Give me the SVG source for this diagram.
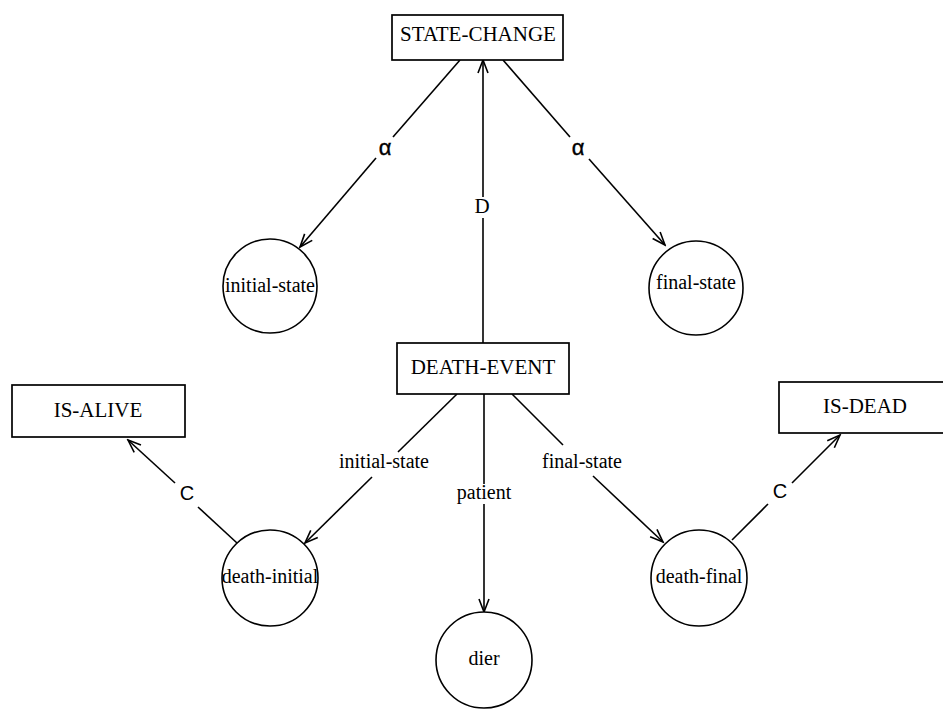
<svg xmlns="http://www.w3.org/2000/svg" width="943" height="709" viewBox="0 0 943 709">
  <style>
    .box { fill: #fff; stroke: #000; stroke-width: 1.7; }
    .node { fill: #fff; stroke: #000; stroke-width: 1.6; }
    .edge { fill: none; stroke: #000; stroke-width: 1.6; }
    .txt { font-family: "Liberation Serif", "Times New Roman", serif; font-size: 21px; fill: #000; text-anchor: middle; }
    .small { font-size: 20px; }
    .sym { font-family: "Liberation Sans", Arial, sans-serif; font-size: 20px; fill: #000; text-anchor: middle; }
    .alpha { font-size: 22px; stroke: #000; stroke-width: 0.4; }
  </style>
  <defs>
    <marker id="arrow" markerUnits="userSpaceOnUse" markerWidth="16" markerHeight="14" viewBox="-14 -7 16 14" refX="0" refY="0" orient="auto">
      <path d="M -13 -5 L 0 0 L -13 5" fill="none" stroke="#000" stroke-width="1.6"/>
    </marker>
  </defs>

  <rect width="943" height="709" fill="#fff"/>

  <!-- connectors, each split around its label -->
  <g id="connectors">
    <!-- STATE-CHANGE -> initial-state (alpha) -->
    <line class="edge" x1="460" y1="60" x2="393" y2="137"/>
    <line class="edge" x1="376" y1="158" x2="300" y2="247" marker-end="url(#arrow)"/>
    <text class="sym alpha" x="385" y="155">α</text>

    <!-- STATE-CHANGE -> final-state (alpha) -->
    <line class="edge" x1="503" y1="60" x2="570" y2="137"/>
    <line class="edge" x1="589" y1="159" x2="665" y2="245" marker-end="url(#arrow)"/>
    <text class="sym alpha" x="578" y="155">α</text>

    <!-- DEATH-EVENT -> STATE-CHANGE (D) -->
    <line class="edge" x1="483" y1="343" x2="483" y2="218"/>
    <line class="edge" x1="483" y1="197" x2="483" y2="60" marker-end="url(#arrow)"/>
    <text class="txt" x="482" y="213">D</text>

    <!-- DEATH-EVENT -> death-initial (initial-state) -->
    <line class="edge" x1="457" y1="394" x2="398" y2="452"/>
    <line class="edge" x1="372" y1="477" x2="305" y2="543" marker-end="url(#arrow)"/>
    <text class="txt small" x="384" y="468">initial-state</text>

    <!-- DEATH-EVENT -> dier (patient) -->
    <line class="edge" x1="484" y1="394" x2="484" y2="484"/>
    <line class="edge" x1="484" y1="504" x2="484" y2="612" marker-end="url(#arrow)"/>
    <text class="txt small" x="484" y="499">patient</text>

    <!-- DEATH-EVENT -> death-final (final-state) -->
    <line class="edge" x1="512" y1="394" x2="563" y2="445"/>
    <line class="edge" x1="593" y1="476" x2="663" y2="542" marker-end="url(#arrow)"/>
    <text class="txt small" x="582" y="468">final-state</text>

    <!-- death-initial -> IS-ALIVE (C) -->
    <line class="edge" x1="237" y1="543" x2="198" y2="507"/>
    <line class="edge" x1="175" y1="483" x2="128" y2="440" marker-end="url(#arrow)"/>
    <text class="sym" x="187" y="500">C</text>

    <!-- death-final -> IS-DEAD (C) -->
    <line class="edge" x1="732" y1="540" x2="768" y2="504"/>
    <line class="edge" x1="792" y1="483" x2="840" y2="435" marker-end="url(#arrow)"/>
    <text class="sym" x="780" y="498">C</text>
  </g>

  <g id="state-change">
    <rect class="box" x="392" y="15" width="171" height="45"/>
    <text class="txt" x="478" y="41">STATE-CHANGE</text>
  </g>

  <g id="initial-state">
    <circle class="node" cx="270" cy="286" r="47"/>
    <text class="txt small" x="270" y="292">initial-state</text>
  </g>

  <g id="final-state">
    <circle class="node" cx="696" cy="288" r="47"/>
    <text class="txt small" x="696" y="289">final-state</text>
  </g>

  <g id="death-event">
    <rect class="box" x="397" y="343" width="172" height="51"/>
    <text class="txt" x="483" y="374">DEATH-EVENT</text>
  </g>

  <g id="is-alive">
    <rect class="box" x="12" y="385" width="173" height="52"/>
    <text class="txt" x="98" y="417">IS-ALIVE</text>
  </g>

  <g id="is-dead">
    <rect class="box" x="779" y="382" width="172" height="51"/>
    <text class="txt" x="865" y="413">IS-DEAD</text>
  </g>

  <g id="death-initial">
    <circle class="node" cx="270" cy="578" r="48"/>
    <text class="txt small" x="270" y="583">death-initial</text>
  </g>

  <g id="dier">
    <circle class="node" cx="484" cy="660" r="48"/>
    <text class="txt small" x="484" y="665">dier</text>
  </g>

  <g id="death-final">
    <circle class="node" cx="699" cy="578" r="48"/>
    <text class="txt small" x="699" y="583">death-final</text>
  </g>
</svg>
